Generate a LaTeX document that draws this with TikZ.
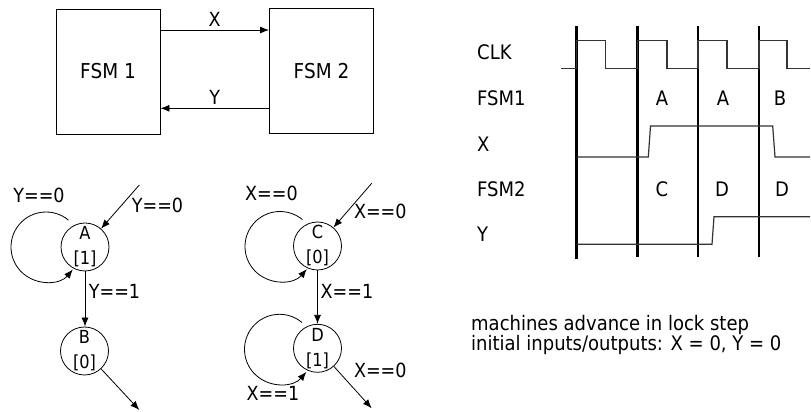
\documentclass[tikz,border=0pt]{standalone}
\usepackage{fontspec}
\setmainfont{DejaVu Sans}[FakeStretch=0.9]
\usetikzlibrary{arrows.meta,calc}
\tikzset{
  arr/.style={-{Latex[length=9pt,width=7pt]}, line width=0.8pt},
  box/.style={draw, line width=0.9pt, minimum width=104pt, minimum height=125pt, inner sep=0pt, font=\fontsize{20.5}{24}\selectfont},
  st/.style={draw, circle, line width=0.8pt, minimum size=48pt, inner sep=0pt, align=center, font=\fontsize{18}{25}\selectfont},
  lbl/.style={inner sep=1pt, font=\fontsize{19.5}{20}\selectfont},
  tl/.style={anchor=west, inner sep=0pt, font=\fontsize{20}{20}\selectfont},
  tv/.style={inner sep=0pt, font=\fontsize{20}{20}\selectfont},
  tick/.style={line width=2.2pt},
  wave/.style={line width=1.2pt, black!80},
}
\begin{document}
\begin{tikzpicture}[x=1pt,y=1pt]
\useasboundingbox (0,0) rectangle (811,412);
% block diagram
\node[box] (f1) at (108,340.5) {FSM 1};
\node[box] (f2) at (321.5,341) {FSM 2};
\draw[arr] ([yshift=41.5pt]f1.east) -- ([yshift=41.5pt]f1.east -| f2.west) node[lbl, midway, above=2pt] (lx) {X};
\draw[arr] ([yshift=-37.3pt]f2.west) -- ([yshift=-37.3pt]f2.west -| f1.east) node[lbl, midway, above=2pt] (ly) {Y};

% FSM 1 state diagram
\node[st] (A) at (85,165) {A\\[0pt]{[1]}};
\node[st] (B) at (84.5,61) {B\\[0pt]{[0]}};
\coordinate (inA) at (139.3,227);
\coordinate (outB) at (139.3,2);
\draw[arr] (inA) -- (A);
\draw[arr] ([shift={(-16.5,26.8)}]A.center) arc[start angle=50, end angle=320, radius=35];
\draw[arr] (A.south) -- (A.south |- B.north);
\draw[arr] (B) -- (outB);
\node[lbl] (la0) at (39,217) {Y==0};
\node[lbl] (la1) at (157.5,207) {Y==0};
\node[lbl] (lab) at (114.5,120.3) {Y==1};

% FSM 2 state diagram
\node[st] (C) at (317.5,166) {C\\[0pt]{[0]}};
\node[st] (D) at (317.5,63.7) {D\\[0pt]{[1]}};
\coordinate (inC) at (371.7,228.7);
\coordinate (outD) at (371.7,3.7);
\draw[arr] (inC) -- (C);
\draw[arr] ([shift={(-15,26.3)}]C.center) arc[start angle=50, end angle=320, radius=35];
\draw[arr] (C.south) -- (C.south |- D.north);
\draw[arr] ([shift={(-15.5,25.8)}]D.center) arc[start angle=50, end angle=320, radius=35];
\draw[arr] (D) -- (outD);
\node[lbl] (lc0) at (271.5,218.7) {X==0};
\node[lbl] (lc1) at (380.3,200.3) {X==0};
\node[lbl] (lcd) at (347,120.3) {X==1};
\node[lbl] (ld1) at (273,18.7) {X==1};
\node[lbl] (ld0) at (380.3,42) {X==0};

% timing diagram
\node[tl] (tclk) at (477,360) {CLK};
\node[tl] (tf1) at (477,314) {FSM1};
\node[tl] (tx) at (477,268) {X};
\node[tl] (tf2) at (477,223) {FSM2};
\node[tl] (ty) at (477,178) {Y};
\draw[tick] (576.5,386) -- (576.5,153);
\draw[tick] (637.5,386) -- (637.5,155);
\draw[tick] (698,386) -- (698,155);
\draw[tick] (759,386) -- (759,155);
\draw[wave] (561,343.7) -- (576.5,343.7) -- (576.5,371.3) -- (605.7,371.3) -- (605.7,343.7)
  -- (637.5,343.7) -- (637.5,371.3) -- (667,371.3) -- (667,343.7)
  -- (698,343.7) -- (698,371.3) -- (727,371.3) -- (727,343.7)
  -- (759,343.7) -- (759,371.3) -- (787,371.3) -- (787,343.7) -- (810,343.7);
\draw[wave] (576.5,255) -- (648.3,255) -- (650.5,286) -- (772.7,286) -- (775,255) -- (810,255);
\draw[wave] (576.5,167.7) -- (712,167.7) -- (714,195.3) -- (810,195.3);
\node[tv] (s1) at (662,314) {A};
\node[tv] (s2) at (723,314) {A};
\node[tv] (s3) at (780,314) {B};
\node[tv] (s4) at (662,223) {C};
\node[tv] (s5) at (722,223) {D};
\node[tv] (s6) at (782,223) {D};

\node[anchor=west, align=left, inner sep=0pt, font=\fontsize{20}{20}\selectfont] (note) at (471,77)
  {machines advance in lock step\\initial inputs/outputs: X = 0, Y = 0};
\end{tikzpicture}
\end{document}
